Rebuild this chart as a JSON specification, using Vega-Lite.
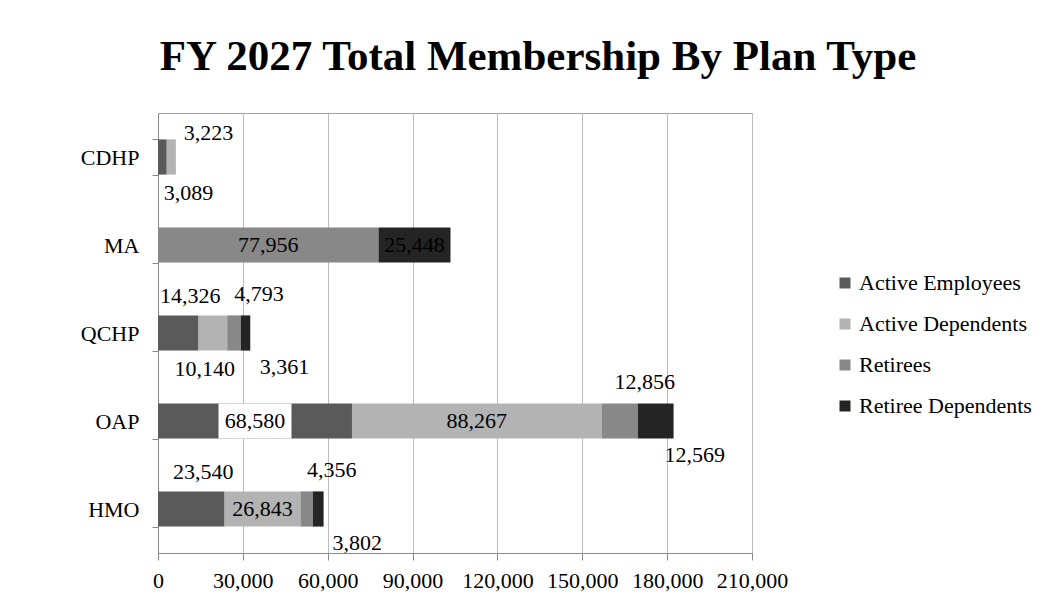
{
  "$schema": "https://vega.github.io/schema/vega-lite/v6.json",
  "width": 594,
  "height": 440,
  "autosize": {"type": "none"},
  "padding": {"left": 158, "top": 113, "right": 298, "bottom": 43},
  "background": "white",
  "title": {
    "text": "FY 2027 Total Membership By Plan Type",
    "font": "Liberation Serif",
    "fontSize": 43,
    "fontWeight": "bold",
    "color": "black",
    "anchor": "middle",
    "dx": 83,
    "dy": 56,
    "baseline": "alphabetic",
    "offset": 45
  },
  "config": {
    "view": {"stroke": "#a0a0a0", "strokeWidth": 1},
    "font": "Liberation Serif",
    "axisX": {
      "labelOverlap": false,
      "labelFlush": false,
      "grid": true,
      "gridColor": "#bdbdbd",
      "domainColor": "#888888",
      "tickColor": "#888888",
      "tickSize": 7,
      "labelFontSize": 22,
      "labelFont": "Liberation Serif",
      "labelColor": "black",
      "labelPadding": 10
    },
    "legend": {
      "orient": "none",
      "legendX": 676,
      "legendY": 159,
      "title": null,
      "symbolType": "square",
      "symbolSize": 121,
      "symbolStrokeWidth": 0,
      "labelFont": "Liberation Serif",
      "labelFontSize": 22,
      "labelColor": "black",
      "labelLimit": 300,
      "rowPadding": 19,
      "labelOffset": 3
    }
  },
  "data": {
    "values": [
      {"plan": "CDHP", "series": "Active Employees", "value": 3089},
      {"plan": "CDHP", "series": "Active Dependents", "value": 3223},
      {"plan": "MA", "series": "Retirees", "value": 77956},
      {"plan": "MA", "series": "Retiree Dependents", "value": 25448},
      {"plan": "QCHP", "series": "Active Employees", "value": 14326},
      {"plan": "QCHP", "series": "Active Dependents", "value": 10140},
      {"plan": "QCHP", "series": "Retirees", "value": 4793},
      {"plan": "QCHP", "series": "Retiree Dependents", "value": 3361},
      {"plan": "OAP", "series": "Active Employees", "value": 68580},
      {"plan": "OAP", "series": "Active Dependents", "value": 88267},
      {"plan": "OAP", "series": "Retirees", "value": 12856},
      {"plan": "OAP", "series": "Retiree Dependents", "value": 12569},
      {"plan": "HMO", "series": "Active Employees", "value": 23540},
      {"plan": "HMO", "series": "Active Dependents", "value": 26843},
      {"plan": "HMO", "series": "Retirees", "value": 4356},
      {"plan": "HMO", "series": "Retiree Dependents", "value": 3802}
    ]
  },
  "transform": [
    {"calculate": "indexof(['Active Employees','Active Dependents','Retirees','Retiree Dependents'], datum.series)", "as": "ord"},
    {"stack": "value", "groupby": ["plan"], "sort": [{"field": "ord", "order": "ascending"}], "as": ["x0", "x1"]},
    {"calculate": "(datum.x0 + datum.x1) / 2", "as": "mid"}
  ],
  "encoding": {
    "y": {
      "field": "plan",
      "type": "nominal",
      "sort": ["CDHP", "MA", "QCHP", "OAP", "HMO"],
      "scale": {"paddingInner": 0.6, "paddingOuter": 0.3},
      "axis": {
        "title": null,
        "domainColor": "#888888",
        "tickColor": "#888888",
        "tickSize": 6,
        "tickBand": "extent",
        "labelFontSize": 22,
        "labelFont": "Liberation Serif",
        "labelColor": "black",
        "labelPadding": 13,
        "grid": false
      }
    }
  },
  "layer": [
    {
      "mark": {"type": "bar"},
      "encoding": {
        "x": {
          "field": "x0",
          "type": "quantitative",
          "scale": {"domain": [0, 210000], "nice": false},
          "axis": {"title": null, "values": [0, 30000, 60000, 90000, 120000, 150000, 180000, 210000], "format": ",.0f"}
        },
        "x2": {"field": "x1"},
        "color": {
          "field": "series",
          "type": "nominal",
          "scale": {
            "domain": ["Active Employees", "Active Dependents", "Retirees", "Retiree Dependents"],
            "range": ["#5a5a5a", "#b3b3b3", "#888888", "#242424"]
          }
        }
      }
    },
    {
      "transform": [{"filter": "datum.plan == 'OAP' && datum.series == 'Active Employees'"}],
      "mark": {"type": "point", "shape": "M-1,-0.48H1V0.48H-1Z", "size": 5329, "filled": true, "color": "white", "opacity": 1},
      "encoding": {"x": {"field": "mid", "type": "quantitative", "axis": {"title": null, "values": [0, 30000, 60000, 90000, 120000, 150000, 180000, 210000], "format": ",.0f"}}}
    },
    {
      "transform": [{"filter": "datum.value >= 25000"}],
      "mark": {"type": "text", "fontSize": 22, "color": "black", "font": "Liberation Serif"},
      "encoding": {
        "x": {"field": "mid", "type": "quantitative", "axis": {"title": null, "values": [0, 30000, 60000, 90000, 120000, 150000, 180000, 210000], "format": ",.0f"}},
        "text": {"field": "value", "type": "quantitative", "format": ","}
      }
    },
    {
      "transform": [{"filter": "datum.value < 25000 && datum.x1 >= 10000 && datum.series == 'Active Employees'"}],
      "mark": {"type": "text", "fontSize": 22, "color": "black", "font": "Liberation Serif", "dy": -37, "dx": 12},
      "encoding": {
        "x": {"field": "mid", "type": "quantitative", "axis": {"title": null, "values": [0, 30000, 60000, 90000, 120000, 150000, 180000, 210000], "format": ",.0f"}},
        "text": {"field": "value", "type": "quantitative", "format": ","}
      }
    },
    {
      "transform": [{"filter": "datum.value < 25000 && datum.x1 >= 10000 && datum.series == 'Retirees'"}],
      "mark": {"type": "text", "fontSize": 22, "color": "black", "font": "Liberation Serif", "dy": -39, "dx": 25},
      "encoding": {
        "x": {"field": "mid", "type": "quantitative", "axis": {"title": null, "values": [0, 30000, 60000, 90000, 120000, 150000, 180000, 210000], "format": ",.0f"}},
        "text": {"field": "value", "type": "quantitative", "format": ","}
      }
    },
    {
      "transform": [{"filter": "datum.value < 25000 && datum.x1 >= 10000 && datum.series == 'Active Dependents'"}],
      "mark": {"type": "text", "fontSize": 22, "color": "black", "font": "Liberation Serif", "dy": 36, "dx": -8},
      "encoding": {
        "x": {"field": "mid", "type": "quantitative", "axis": {"title": null, "values": [0, 30000, 60000, 90000, 120000, 150000, 180000, 210000], "format": ",.0f"}},
        "text": {"field": "value", "type": "quantitative", "format": ","}
      }
    },
    {
      "transform": [{"filter": "datum.value < 25000 && datum.x1 >= 10000 && datum.series == 'Retiree Dependents'"}],
      "mark": {"type": "text", "fontSize": 22, "color": "black", "font": "Liberation Serif", "dy": 34, "dx": 39},
      "encoding": {
        "x": {"field": "mid", "type": "quantitative", "axis": {"title": null, "values": [0, 30000, 60000, 90000, 120000, 150000, 180000, 210000], "format": ",.0f"}},
        "text": {"field": "value", "type": "quantitative", "format": ","}
      }
    },
    {
      "transform": [{"filter": "datum.x1 < 10000 && datum.series == 'Active Employees'"}],
      "mark": {"type": "text", "fontSize": 22, "color": "black", "font": "Liberation Serif", "align": "left", "dy": 36, "dx": -3},
      "encoding": {
        "x": {"field": "x1", "type": "quantitative", "axis": {"title": null, "values": [0, 30000, 60000, 90000, 120000, 150000, 180000, 210000], "format": ",.0f"}},
        "text": {"field": "value", "type": "quantitative", "format": ","}
      }
    },
    {
      "transform": [{"filter": "datum.x1 < 10000 && datum.series == 'Active Dependents'"}],
      "mark": {"type": "text", "fontSize": 22, "color": "black", "font": "Liberation Serif", "align": "left", "dy": -24, "dx": 8},
      "encoding": {
        "x": {"field": "x1", "type": "quantitative", "axis": {"title": null, "values": [0, 30000, 60000, 90000, 120000, 150000, 180000, 210000], "format": ",.0f"}},
        "text": {"field": "value", "type": "quantitative", "format": ","}
      }
    }
  ]
}
